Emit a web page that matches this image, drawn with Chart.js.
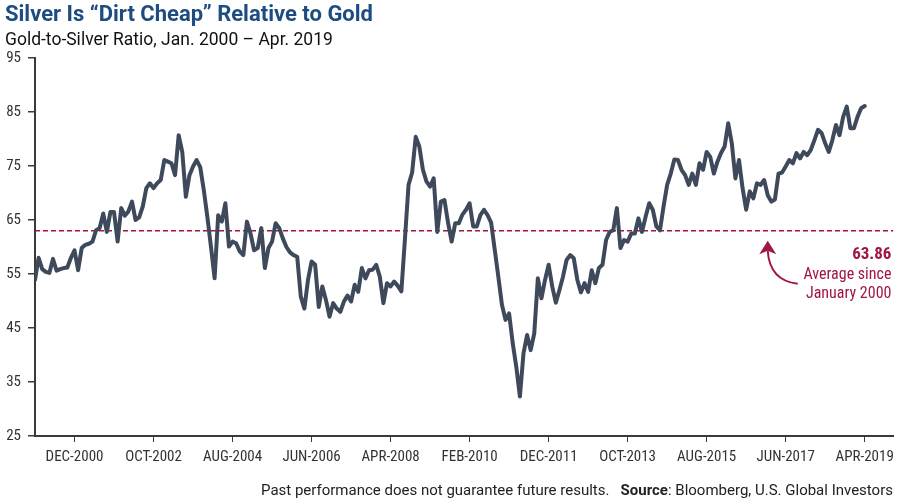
<!DOCTYPE html>
<html>
<head>
<meta charset="utf-8">
<script src="https://cdn.jsdelivr.net/npm/chart.js@4.4.1/dist/chart.umd.min.js"></script>
<style>
  html, body { margin: 0; padding: 0; background: #fff; }
  #wrap { width: 900px; height: 503px; }
</style>
</head>
<body>
<div id="wrap"><canvas id="ratioChart" width="900" height="503"></canvas></div>
<script>
'use strict';

// Gold-to-silver ratio, monthly, Jan 2000 .. Apr 2019
const startYear = 2000;
const monthNames = ['JAN', 'FEB', 'MAR', 'APR', 'MAY', 'JUN', 'JUL', 'AUG', 'SEP', 'OCT', 'NOV', 'DEC'];
const ratio = [
    53.9, 58.0, 55.9, 55.4, 55.2, 57.8, 55.6, 55.9, 56.1, 56.2, 58.0, 59.4, // 2000
    55.7, 59.8, 60.4, 60.6, 61.0, 63.1, 63.5, 66.2, 62.8, 66.5, 66.5, 61.0, // 2001
    67.2, 65.8, 66.6, 68.4, 65.0, 65.5, 67.5, 70.9, 71.8, 70.9, 71.8, 72.4, // 2002
    76.1, 75.8, 75.5, 73.3, 80.7, 77.6, 69.3, 73.3, 74.9, 76.1, 74.8, 70.5, // 2003
    65.5, 60.0, 54.2, 65.9, 64.7, 68.1, 60.1, 61.0, 60.7, 59.2, 58.5, 64.7, // 2004
    62.5, 59.4, 59.8, 63.5, 56.1, 59.8, 61.0, 64.4, 63.5, 61.6, 60.0, 59.0, // 2005
    58.5, 58.2, 50.8, 48.6, 53.9, 57.3, 56.7, 48.9, 52.7, 50.2, 47.1, 49.6, // 2006
    48.6, 48.0, 49.9, 51.0, 49.9, 53.0, 51.7, 56.1, 54.2, 55.7, 55.8, 56.7, // 2007
    54.5, 49.6, 53.3, 52.7, 53.6, 52.8, 51.8, 61.5, 71.5, 73.8, 80.4, 78.6, // 2008
    74.3, 72.1, 71.2, 72.7, 62.8, 68.4, 68.7, 64.5, 61.0, 64.4, 64.4, 66.0, // 2009
    66.9, 68.1, 63.8, 63.8, 65.9, 66.9, 65.9, 64.5, 59.5, 54.5, 49.3, 46.5, // 2010
    47.7, 42.2, 37.8, 32.3, 40.3, 43.7, 40.9, 44.0, 54.2, 50.5, 53.9, 56.7, // 2011
    52.7, 49.7, 52.0, 54.5, 57.6, 58.5, 57.9, 53.9, 51.6, 53.3, 51.7, 55.7, // 2012
    53.3, 56.1, 56.7, 61.3, 62.8, 63.1, 67.2, 59.8, 61.3, 61.0, 62.5, 62.5, // 2013
    65.3, 62.8, 65.6, 68.1, 66.9, 63.8, 63.1, 67.5, 71.5, 73.6, 76.2, 76.1, // 2014
    74.3, 73.3, 71.5, 73.6, 71.5, 75.5, 74.3, 77.6, 76.7, 73.6, 75.8, 77.4, // 2015
    78.6, 82.9, 79.2, 72.7, 76.1, 70.9, 66.9, 70.3, 69.0, 71.8, 71.5, 72.4, // 2016
    69.6, 68.4, 68.8, 73.6, 73.8, 74.9, 76.1, 75.5, 77.4, 76.4, 77.6, 77.0, // 2017
    78.0, 79.8, 81.7, 81.1, 79.2, 77.6, 79.8, 82.6, 80.7, 84.1, 86.0, 82.0, // 2018
    82.0, 84.1, 85.7, 86.1                                                  // 2019
];
const xTickLabels = ['DEC-2000', 'OCT-2002', 'AUG-2004', 'JUN-2006', 'APR-2008', 'FEB-2010',
    'DEC-2011', 'OCT-2013', 'AUG-2015', 'JUN-2017', 'APR-2019'];
const yTicks = [25, 35, 45, 55, 65, 75, 85, 95];
const averageLevel = 63.0;     // where the dashed average line sits in the picture
const averageText = '63.86';
const averageNote = ['Average since', 'January 2000'];
const lastMonthOnAxis = 239;   // axis runs a little past Apr 2019

const titleText = 'Silver Is \u201CDirt Cheap\u201D Relative to Gold';
const subtitleText = 'Gold-to-Silver Ratio, Jan. 2000 \u2013 Apr. 2019';
const footNote = 'Past performance does not guarantee future results.';
const sourceLabel = 'Source';
const sourceText = ': Bloomberg, U.S. Global Investors';

const cond = '"Liberation Sans Narrow", "Roboto Condensed", "DejaVu Sans Condensed", sans-serif';
const sans = 'Roboto, "Noto Sans", sans-serif';
const lineClr = '#3e4a5b';
const avgClr = '#a01745';
const axisClr = '#3a3a3a';
const textClr = '#333333';
const titleClr = '#1d4c80';

const monthIndex = label => {
    const [m, y] = label.split('-');
    return (Number(y) - startYear) * 12 + monthNames.indexOf(m);
};
const tickMonths = xTickLabels.map(monthIndex);

// Titles, footer and the average callout
const textPlugin = {
    id: 'texts',
    afterDraw(chart) {
        const { ctx, chartArea, scales } = chart;
        ctx.save();
        ctx.textBaseline = 'alphabetic';
        ctx.textAlign = 'left';

        ctx.fillStyle = titleClr;
        ctx.font = `bold 22px ${sans}`;
        ctx.fillText(titleText, 5, 21);
        ctx.fillStyle = '#111';
        ctx.font = `17.5px ${sans}`;
        ctx.fillText(subtitleText, 5, 45);

        // footer, right aligned
        ctx.fillStyle = '#222';
        const right = 893;
        ctx.font = `15px ${sans}`;
        const wRest = ctx.measureText(sourceText).width;
        const wFoot = ctx.measureText(footNote + '   ').width;
        ctx.font = `bold 15px ${sans}`;
        const wSrc = ctx.measureText(sourceLabel).width;
        let x = right - wRest - wSrc - wFoot;
        ctx.font = `15px ${sans}`;
        ctx.fillText(footNote, x, 495);
        x += wFoot;
        ctx.font = `bold 15px ${sans}`;
        ctx.fillText(sourceLabel, x, 495);
        ctx.font = `15px ${sans}`;
        ctx.fillText(sourceText, x + wSrc, 495);

        // average callout
        const avgY = scales.y.getPixelForValue(averageLevel);
        const tipX = scales.x.getPixelForValue(204);
        const tipY = avgY + 10;
        ctx.strokeStyle = avgClr;
        ctx.fillStyle = avgClr;
        ctx.lineWidth = 2;
        ctx.beginPath();
        ctx.moveTo(tipX + 30, tipY + 43);
        ctx.quadraticCurveTo(tipX + 2, tipY + 40, tipX, tipY + 10);
        ctx.stroke();
        ctx.beginPath();
        ctx.moveTo(tipX, tipY);
        ctx.lineTo(tipX + 8.5, tipY + 13.5);
        ctx.lineTo(tipX, tipY + 10);
        ctx.lineTo(tipX - 8.5, tipY + 13.5);
        ctx.closePath();
        ctx.fill();

        ctx.textAlign = 'right';
        const tx = chartArea.right - 2;
        ctx.font = `bold 17px ${cond}`;
        ctx.fillText(averageText, tx, avgY + 28);
        ctx.font = `16px ${cond}`;
        ctx.fillText(averageNote[0], tx, avgY + 48);
        ctx.fillText(averageNote[1], tx, avgY + 67);
        ctx.restore();
    }
};

new Chart(document.getElementById('ratioChart'), {
    type: 'line',
    data: {
        datasets: [
            { label: 'Gold-to-Silver Ratio', data: ratio.map((v, i) => ({ x: i, y: v })), borderColor: lineClr, borderWidth: 4, pointRadius: 0, tension: 0, borderJoinStyle: 'round', borderCapStyle: 'round', order: 1 },
            { label: 'Average', data: [{ x: 0, y: averageLevel }, { x: lastMonthOnAxis, y: averageLevel }], borderColor: avgClr, borderWidth: 1.5, borderDash: [5, 3], pointRadius: 0, order: 2 },
        ],
    },
    options: {
        responsive: false, devicePixelRatio: 1, animation: false,
        layout: { padding: { top: 58, right: 5, bottom: 27, left: 0 } },
        plugins: { legend: { display: false }, tooltip: { enabled: false } },
        scales: {
            x: {
                type: 'linear', min: 0, max: lastMonthOnAxis,
                afterFit: s => { s.height = 40; },
                afterBuildTicks: s => { s.ticks = tickMonths.map(v => ({ value: v })); },
                border: { display: true, color: axisClr, width: 2 },
                grid: { display: true, drawOnChartArea: false, drawTicks: true, tickLength: 6, color: axisClr, lineWidth: 1 },
                ticks: { color: textClr, font: { family: cond, size: 15 }, padding: 6, maxRotation: 0, autoSkip: false,
                    callback: v => xTickLabels[tickMonths.indexOf(v)] },
            },
            y: {
                min: yTicks[0], max: yTicks[yTicks.length - 1],
                afterFit: s => { s.width = 35; },
                afterBuildTicks: s => { s.ticks = yTicks.map(v => ({ value: v })); },
                border: { display: true, color: axisClr, width: 2 },
                grid: { display: true, drawOnChartArea: false, drawTicks: true, tickLength: 7, color: axisClr, lineWidth: 1.5 },
                ticks: { color: textClr, font: { family: cond, size: 15 }, padding: 7 },
            },
        },
    },
    plugins: [textPlugin],
});
</script>
</body>
</html>
